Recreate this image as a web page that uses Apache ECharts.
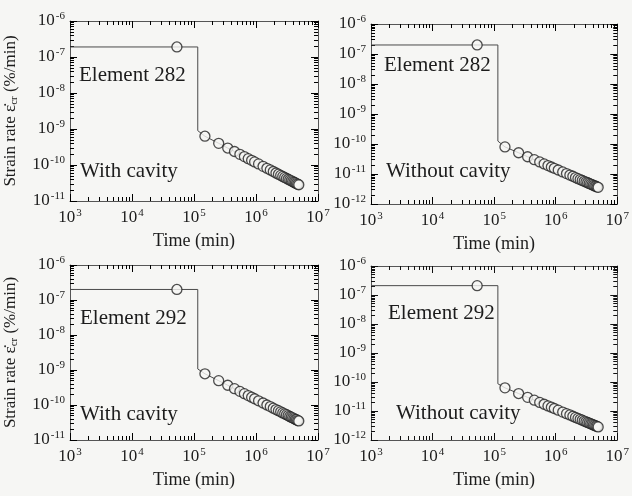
<!DOCTYPE html>
<html>
<head>
<meta charset="utf-8">
<script src="https://cdn.jsdelivr.net/npm/echarts@6/dist/echarts.min.js"></script>
</head>
<body style="margin:0;background:#f6f6f4">
<div id="main" style="width:632px;height:496px"></div>
<script>
// step part: start, hold circle, drop top, drop bottom
var stepTime = [1e3, 5.3e4, 1.15e5, 1.15e5];
var step282With = [1.9e-7, 1.9e-7, 1.9e-7, 9e-10];
var step282Without = [2.0e-7, 2.0e-7, 2.0e-7, 1.25e-10];
var step292With = [2.0e-7, 2.0e-7, 2.0e-7, 1.07e-9];
var step292Without = [2.1e-7, 2.1e-7, 2.1e-7, 8.7e-11];

// circles after the drop (min)
var circleTime = [1.5e5, 2.5e5, 3.5e5, 4.5e5, 5.5e5, 6.5e5, 7.5e5, 8.5e5, 9.5e5, 1.1e6,
	1.3e6, 1.5e6, 1.7e6, 1.9e6, 2.1e6, 2.3e6, 2.5e6, 2.7e6, 2.9e6, 3.1e6,
	3.3e6, 3.5e6, 3.7e6, 3.9e6, 4.1e6, 4.3e6, 4.5e6, 4.7e6, 4.9e6];
var rate282With = [6.3e-10, 4.0e-10, 2.96e-10, 2.37e-10, 1.98e-10, 1.71e-10, 1.50e-10, 1.35e-10, 1.22e-10, 1.07e-10,
	9.2e-11, 8.1e-11, 7.3e-11, 6.6e-11, 6.0e-11, 5.55e-11, 5.15e-11, 4.81e-11, 4.51e-11, 4.25e-11,
	4.02e-11, 3.82e-11, 3.63e-11, 3.47e-11, 3.32e-11, 3.18e-11, 3.05e-11, 2.94e-11, 2.83e-11];
var rate282Without = [8.0e-11, 5.1e-11, 3.76e-11, 3.0e-11, 2.52e-11, 2.17e-11, 1.91e-11, 1.71e-11, 1.55e-11, 1.36e-11,
	1.17e-11, 1.03e-11, 9.2e-12, 8.4e-12, 7.6e-12, 7.0e-12, 6.5e-12, 6.1e-12, 5.7e-12, 5.4e-12,
	5.1e-12, 4.85e-12, 4.6e-12, 4.4e-12, 4.2e-12, 4.0e-12, 3.9e-12, 3.7e-12, 3.6e-12];
var rate292With = [7.8e-10, 4.95e-10, 3.67e-10, 2.93e-10, 2.45e-10, 2.11e-10, 1.86e-10, 1.67e-10, 1.51e-10, 1.32e-10,
	1.14e-10, 1.0e-10, 9.0e-11, 8.1e-11, 7.4e-11, 6.9e-11, 6.4e-11, 5.95e-11, 5.6e-11, 5.3e-11,
	5.0e-11, 4.7e-11, 4.5e-11, 4.3e-11, 4.1e-11, 3.9e-11, 3.8e-11, 3.6e-11, 3.5e-11];
var rate292Without = [6.3e-11, 4.0e-11, 2.96e-11, 2.37e-11, 1.98e-11, 1.71e-11, 1.50e-11, 1.35e-11, 1.22e-11, 1.07e-11,
	9.2e-12, 8.1e-12, 7.3e-12, 6.6e-12, 6.0e-12, 5.55e-12, 5.15e-12, 4.81e-12, 4.51e-12, 4.25e-12,
	4.02e-12, 3.82e-12, 3.63e-12, 3.47e-12, 3.32e-12, 3.18e-12, 3.05e-12, 2.94e-12, 2.83e-12];

var xMin = 1e3, xMax = 1e7, yMax = 1e-6;

var panels = [
	{grid: {left: 70, top: 21, width: 248, height: 180}, step: step282With, rate: rate282With, ymin: 1e-11, ylabel: true,
		tick: '#000', texts: [['Element 282', 79, 65], ['With cavity', 80, 161]]},
	{grid: {left: 371, top: 24, width: 248, height: 180}, step: step282Without, rate: rate282Without, ymin: 1e-12, ylabel: false,
		tick: 'black', texts: [['Element 282', 384, 55], ['Without cavity', 386, 161]]},
	{grid: {left: 70, top: 265, width: 248, height: 175}, step: step292With, rate: rate292With, ymin: 1e-11, ylabel: true,
		tick: 'rgb(0,0,0)', texts: [['Element 292', 80, 308], ['With cavity', 80, 404]]},
	{grid: {left: 371, top: 266, width: 248, height: 174}, step: step292Without, rate: rate292Without, ymin: 1e-12, ylabel: false,
		tick: '#111111', texts: [['Element 292', 388, 303], ['Without cavity', 396, 403]]}
];

var FONT = 'Liberation Serif';
var INK = '#1c1c1c';
var LINE = '#4a4a4a';

function pow10(v){
	return '{b|10}{e|' + Math.round(Math.log(v) / Math.LN10) + '}';
}
var powRich = {
	b: {fontFamily: FONT, fontSize: 17, color: INK, lineHeight: 20},
	e: {fontFamily: FONT, fontSize: 11, color: INK, verticalAlign: 'top', lineHeight: 11, padding: [0, 0, 7, 1]}
};
function axisBase(gi, tickColor){
	return {
		type: 'log', logBase: 10, gridIndex: gi,
		axisLine: {show: true, lineStyle: {color: '#555', width: 1}},
		axisTick: {show: true, inside: true, length: 7, lineStyle: {color: tickColor, width: 1}},
		minorTick: {show: true, splitNumber: 9, length: 4, lineStyle: {color: tickColor, width: 1}},
		splitLine: {show: false},
		minorSplitLine: {show: false}
	};
}

var grids = [], xAxes = [], yAxes = [], series = [], titles = [];
panels.forEach(function(p, gi){
	grids.push(p.grid);
	var xb = axisBase(gi, p.tick);
	xb.min = xMin; xb.max = xMax; xb.position = 'bottom';
	xb.axisLabel = {formatter: pow10, rich: powRich, margin: 7};
	xb.name = 'Time (min)'; xb.nameLocation = 'middle'; xb.nameGap = 31;
	xb.nameTextStyle = {fontFamily: FONT, fontSize: 18, color: INK};
	var xi = xAxes.length;
	xAxes.push(xb);

	var yb = axisBase(gi, p.tick);
	yb.min = p.ymin; yb.max = yMax; yb.position = 'left';
	yb.axisLabel = {formatter: pow10, rich: powRich, margin: 5};
	if (p.ylabel) {
		yb.name = '{t|Strain rate ε̇}{s|cr}{t| (%/min)}';
		yb.nameLocation = 'middle'; yb.nameRotate = 90; yb.nameGap = 50;
		yb.nameTextStyle = {rich: {
			t: {fontFamily: FONT, fontSize: 17, color: INK},
			s: {fontFamily: FONT, fontSize: 11, color: INK, verticalAlign: 'bottom', padding: [7, 0, 0, 0]}
		}};
	}
	var yi = yAxes.length;
	yAxes.push(yb);

	// mirrored ticks on top and right
	var xt = axisBase(gi, p.tick); xt.min = xMin; xt.max = xMax; xt.position = 'top'; xt.axisLabel = {show: false};
	xAxes.push(xt);
	var yr = axisBase(gi, p.tick); yr.min = p.ymin; yr.max = yMax; yr.position = 'right'; yr.axisLabel = {show: false};
	yAxes.push(yr);

	var path = [];
	for (var k = 0; k < stepTime.length; k++) path.push([stepTime[k], p.step[k]]);
	var dots = [[stepTime[1], p.step[1]]];
	for (var j = 0; j < circleTime.length; j++) {
		path.push([circleTime[j], p.rate[j]]);
		dots.push([circleTime[j], p.rate[j]]);
	}
	series.push({type: 'line', xAxisIndex: xi, yAxisIndex: yi, data: path, symbol: 'none',
		lineStyle: {color: LINE, width: 1}, z: 2, animation: false});
	series.push({type: 'scatter', xAxisIndex: xi, yAxisIndex: yi, data: dots, symbol: 'circle', symbolSize: 10,
		itemStyle: {color: '#f6f6f4', borderColor: '#222', borderWidth: 1.3}, z: 3, animation: false});

	p.texts.forEach(function(t){
		titles.push({text: t[0], left: t[1], top: t[2], padding: 0,
			textStyle: {fontFamily: FONT, fontSize: 21, fontWeight: 'normal', color: INK}});
	});
});

var myChart = echarts.init(document.getElementById('main'));
myChart.setOption({
	backgroundColor: '#f6f6f4',
	animation: false,
	title: titles,
	grid: grids,
	xAxis: xAxes,
	yAxis: yAxes,
	series: series
});
</script>
</body>
</html>
